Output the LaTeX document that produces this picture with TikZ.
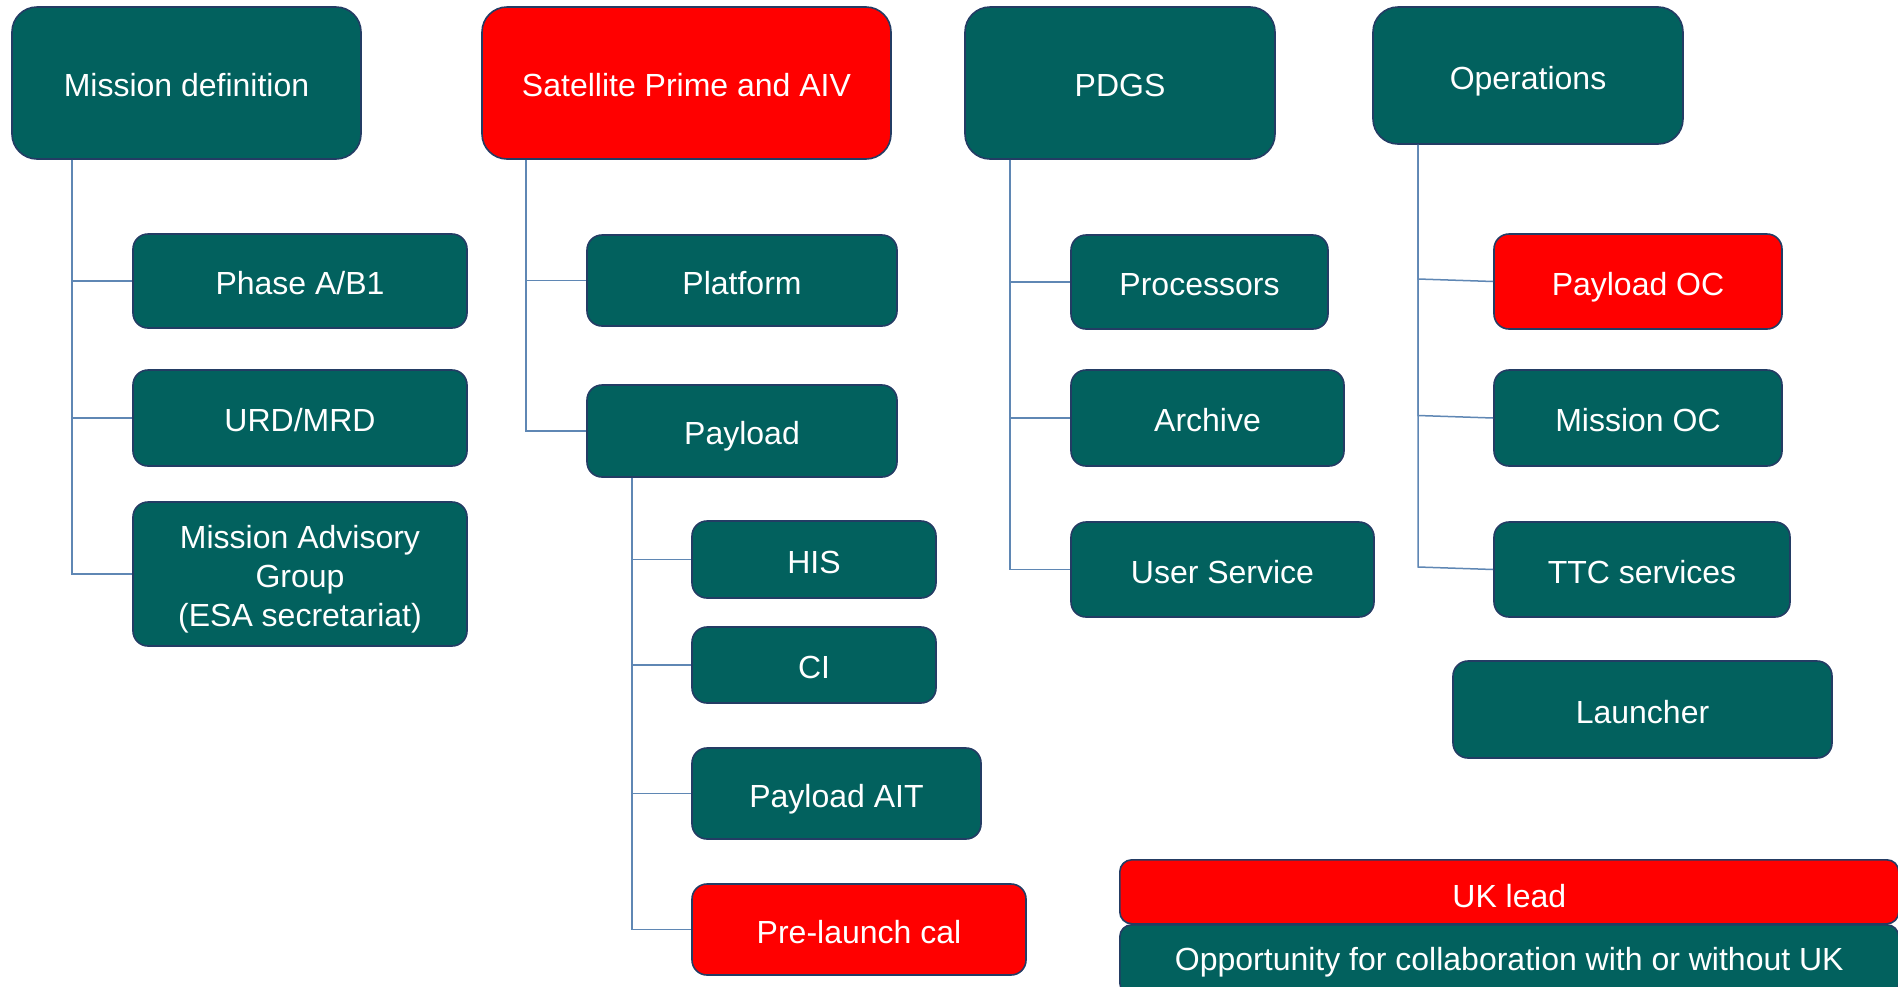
\documentclass[tikz,border=0pt]{standalone}
\usepackage{fontspec}
\setmainfont{Liberation Sans}
\definecolor{tealbox}{RGB}{2,97,94}
\definecolor{edgeblue}{RGB}{35,60,100}
\definecolor{connblue}{RGB}{95,135,180}
\definecolor{redbox}{RGB}{255,0,0}
\begin{document}
\begin{tikzpicture}[x=1pt,y=-1pt,
  box/.style={draw=edgeblue, line width=1.6pt, fill=tealbox, text=white,
    font=\fontsize{32}{39}\selectfont, align=center, inner sep=0pt,
    text height=27pt, text depth=0pt},
  multi/.style={text height=104pt, text depth=0pt},
  redb/.style={box, fill=redbox},
  big/.style={rounded corners=25pt},
  small/.style={rounded corners=15pt},
  connl/.style={draw=connblue, line width=1.5pt}]
\clip (0,0) rectangle (1898,986);
\fill[white] (0,0) rectangle (1898,986);

% top level
\node[box, big, minimum width=349pt, minimum height=152pt] (mission) at (186.5,83) {Mission definition};
\node[redb, big, minimum width=409pt, minimum height=152pt] (sat) at (686.5,83) {Satellite Prime and AIV};
\node[box, big, minimum width=310pt, minimum height=152pt] (pdgs) at (1120,83) {PDGS};
\node[box, big, minimum width=310pt, minimum height=137pt] (ops) at (1528,75.5) {Operations};

% mission definition children
\node[box, small, minimum width=334pt, minimum height=94pt] (phase) at (300,281) {Phase A/B1};
\node[box, small, minimum width=334pt, minimum height=96pt] (urd) at (300,418) {URD/MRD};
\node[box, small, multi, minimum width=334pt, minimum height=144pt] (mag) at (300,574) {Mission Advisory\\Group\\(ESA secretariat)};

% satellite children
\node[box, small, minimum width=310pt, minimum height=91pt] (platform) at (742,280.5) {Platform};
\node[box, small, minimum width=310pt, minimum height=92pt] (payload) at (742,431) {Payload};
\node[box, small, minimum width=244pt, minimum height=77pt] (his) at (814,559.5) {HIS};
\node[box, small, minimum width=244pt, minimum height=76pt] (ci) at (814,665) {CI};
\node[box, small, minimum width=289pt, minimum height=91pt] (ait) at (836.5,793.5) {Payload AIT};
\node[redb, small, minimum width=334pt, minimum height=91pt] (cal) at (859,929.5) {Pre-launch cal};

% PDGS children
\node[box, small, minimum width=257pt, minimum height=94pt] (proc) at (1199.5,282) {Processors};
\node[box, small, minimum width=273pt, minimum height=96pt] (arch) at (1207.5,418) {Archive};
\node[box, small, minimum width=303pt, minimum height=95pt] (usvc) at (1222.5,569.5) {User Service};

% operations children
\node[redb, small, minimum width=288pt, minimum height=95pt] (payoc) at (1638,281.5) {Payload OC};
\node[box, small, minimum width=288pt, minimum height=96pt] (missoc) at (1638,418) {Mission OC};
\node[box, small, minimum width=296pt, minimum height=95pt] (ttc) at (1642,569.5) {TTC services};
\node[box, small, minimum width=379pt, minimum height=97pt] (launcher) at (1642.5,709.5) {Launcher};

% legend
\node[redb, rounded corners=12pt, text height=31pt, minimum width=779pt, minimum height=64pt, anchor=north west] (ukl) at (1119,859) {UK lead};
\node[box, rounded corners=12pt, text height=22pt, minimum width=779pt, minimum height=70pt, anchor=north west] (opp) at (1119,924) {Opportunity for collaboration with or without UK};

% connectors
\foreach \c in {phase,urd,mag}
  \draw[connl] ([xshift=61pt]mission.south west) |- (\c.west);
\foreach \c in {platform,payload}
  \draw[connl] ([xshift=45pt]sat.south west) |- (\c.west);
\foreach \c in {his,ci,ait,cal}
  \draw[connl] ([xshift=46pt]payload.south west) |- (\c.west);
\foreach \c in {proc,arch,usvc}
  \draw[connl] ([xshift=46pt]pdgs.south west) |- (\c.west);
\foreach \c in {payoc,missoc,ttc}
  \draw[connl] ([xshift=46pt]ops.south west) -- ([xshift=46pt,yshift=2.5pt]ops.south west |- \c.west) -- (\c.west);
\end{tikzpicture}
\end{document}
